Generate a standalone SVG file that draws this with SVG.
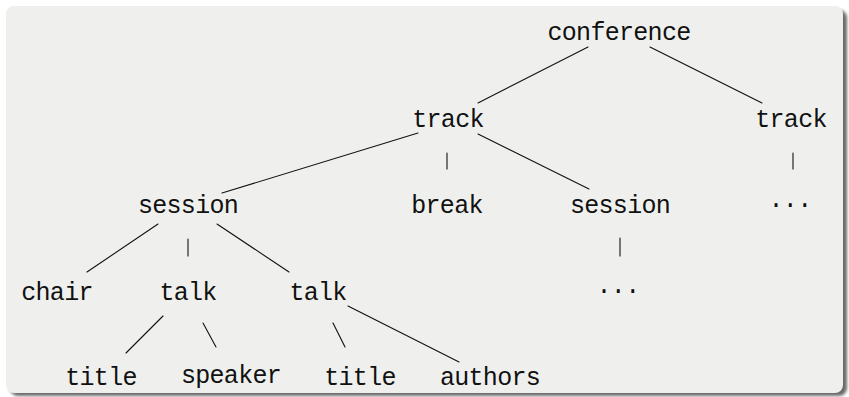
<svg xmlns="http://www.w3.org/2000/svg" width="849" height="397" viewBox="0 0 849 397">
<defs>
<filter id="sh" x="-5%" y="-5%" width="110%" height="110%"><feGaussianBlur stdDeviation="1.5"/></filter>
<style>
.t{font-family:"Liberation Mono","DejaVu Sans Mono",monospace;font-size:25px;letter-spacing:-0.7px;fill:#111;text-anchor:middle}
.c line{stroke:#111;stroke-width:1.1;stroke-linecap:round}
</style>
</defs>
<rect x="10" y="10" width="837" height="386" rx="8" fill="#6a6a6a" filter="url(#sh)"/>
<rect x="6" y="6" width="837" height="387" rx="8" fill="#eff0ee"/>
<g class="c" id="connectors">
<line x1="588" y1="47" x2="478" y2="103"/>
<line x1="650" y1="47" x2="762" y2="103"/>
<line x1="418" y1="133" x2="222" y2="193"/>
<line x1="447" y1="153" x2="447" y2="169"/>
<line x1="478" y1="134" x2="589" y2="189"/>
<line x1="793" y1="153" x2="793" y2="169"/>
<line x1="158" y1="224" x2="87" y2="272"/>
<line x1="188" y1="239" x2="188" y2="256"/>
<line x1="217" y1="224" x2="289" y2="272"/>
<line x1="620" y1="238" x2="620" y2="256"/>
<line x1="163" y1="316" x2="126" y2="353"/>
<line x1="203" y1="323" x2="216" y2="347"/>
<line x1="333" y1="323" x2="345" y2="347"/>
<line x1="348" y1="306" x2="459" y2="362"/>
</g>
<g id="conference"><text class="t" x="619" y="40">conference</text></g>
<g id="track1"><text class="t" x="448" y="127">track</text></g>
<g id="track2"><text class="t" x="791" y="127">track</text></g>
<g id="session1"><text class="t" x="188" y="213">session</text></g>
<g id="break"><text class="t" x="447" y="213">break</text></g>
<g id="session2"><text class="t" x="620" y="213">session</text></g>
<g id="more1"><text class="t" x="790" y="212">···</text></g>
<g id="more2"><text class="t" x="618" y="298">···</text></g>
<g id="chair"><text class="t" x="57" y="300">chair</text></g>
<g id="talk1"><text class="t" x="188" y="300">talk</text></g>
<g id="talk2"><text class="t" x="318" y="300">talk</text></g>
<g id="title1"><text class="t" x="101" y="385">title</text></g>
<g id="speaker"><text class="t" x="231" y="383">speaker</text></g>
<g id="title2"><text class="t" x="360" y="385">title</text></g>
<g id="authors"><text class="t" x="490" y="385">authors</text></g>
</svg>
